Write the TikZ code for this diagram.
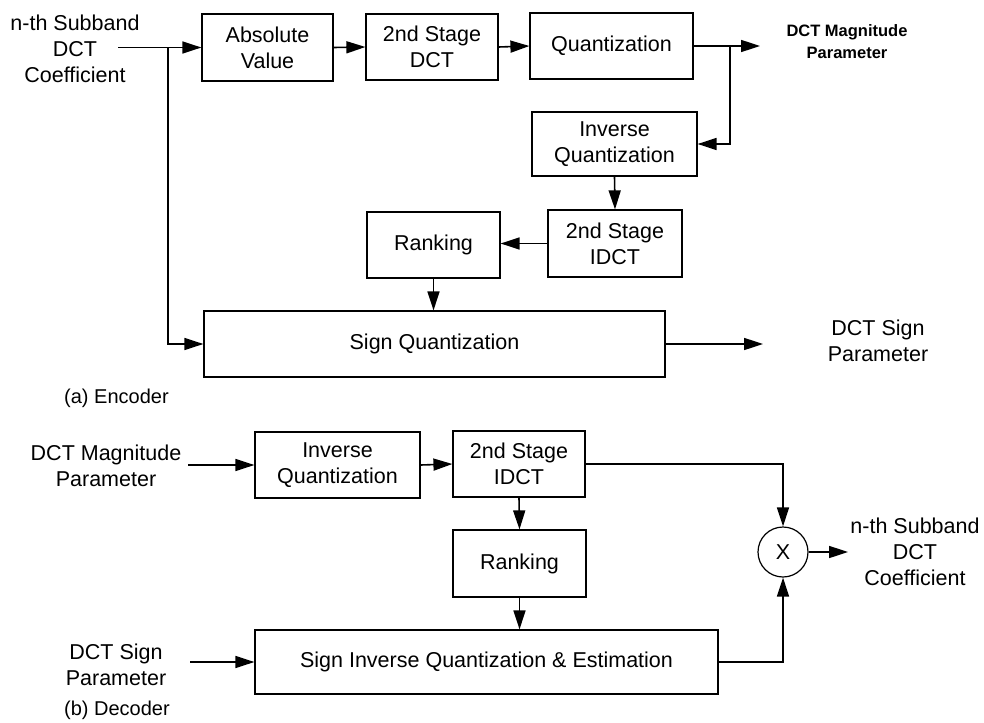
\documentclass[tikz,border=0pt]{standalone}
\usepackage{fontspec}
\setmainfont{Liberation Sans}
\usetikzlibrary{arrows.meta}
\begin{document}
\begin{tikzpicture}[x=1pt,y=-1pt,
  font=\fontsize{21.5}{26}\selectfont,
  blk/.style={draw,line width=1.2pt,minimum width=#1,inner sep=0pt,align=center},
  lbl/.style={align=center,inner sep=0pt},
  conn/.style={line width=1.6pt,-{Triangle[length=19pt,width=12pt]}},
  wire/.style={line width=1.6pt}]
\useasboundingbox (0,0) rectangle (984,722);
% Encoder
\node[blk=131pt,minimum height=67pt] (absv) at (267.5,47.5) {Absolute\\Value};
\node[blk=132pt,minimum height=66pt] (dct2) at (432,47) {2nd Stage\\DCT};
\node[blk=163pt,minimum height=66pt] (quant) at (611.5,46) {Quantization};
\node[blk=165pt,minimum height=64pt] (iquant) at (614.5,144) {Inverse\\Quantization};
\node[blk=134pt,minimum height=67pt] (idct) at (615,243.5) {2nd Stage\\IDCT};
\node[blk=133pt,minimum height=66pt] (rank) at (433.5,245) {Ranking};
\node[blk=461pt,minimum height=66pt] (signq) at (434.5,344) {Sign Quantization};

\node[lbl] (inlbl) at (75,49) {n-th Subband\\DCT\\Coefficient};
\node[lbl,font=\fontsize{16.5}{22}\selectfont\bfseries] (maglbl) at (847,41.5) {DCT Magnitude\\Parameter};
\node[lbl] (signlbl) at (878,341) {DCT Sign\\Parameter};
\node[lbl,anchor=west,font=\fontsize{20}{22}\selectfont] (capa) at (64,398) {(a) Encoder};

\coordinate (in1) at (118,47.5);
\coordinate (br1) at (168,47.5);
\coordinate (qout) at (760,46);
\coordinate (br2) at (730,46);
\coordinate (sout) at (763,344);

\draw[conn] (in1) -- (absv.west);
\draw[conn] (absv.east) -- (dct2.west);
\draw[conn] (dct2.east) -- (quant.west);
\draw[conn] (quant.east) -- (qout);
\draw[conn] (br2) |- (iquant.east);
\draw[conn] (iquant.south) -- (idct.north);
\draw[conn] (idct.west) -- (idct.west -| rank.east);
\draw[conn] (rank.south) -- (rank.south |- signq.north);
\draw[conn] (br1) |- (signq.west);
\draw[conn] (signq.east) -- (sout);

% Decoder
\node[blk=165pt,minimum height=66pt] (diq) at (337.5,465) {Inverse\\Quantization};
\node[blk=132pt,minimum height=66pt] (didct) at (519,464) {2nd Stage\\IDCT};
\node[blk=133pt,minimum height=67pt] (drank) at (519.5,563.5) {Ranking};
\node[blk=463pt,minimum height=64pt] (dsiq) at (486.5,662) {Sign Inverse Quantization \& Estimation};
\node[draw,circle,line width=1.2pt,minimum size=50pt,inner sep=0pt] (mult) at (783,552) {X};

\node[lbl] (dmaglbl) at (106,466) {DCT Magnitude\\Parameter};
\node[lbl] (dsignlbl) at (116,665) {DCT Sign\\Parameter};
\node[lbl,anchor=west,font=\fontsize{20}{22}\selectfont] (capb) at (64,710) {(b) Decoder};
\node[lbl] (doutlbl) at (915,552) {n-th Subband\\DCT\\Coefficient};

\coordinate (din1) at (188,465);
\coordinate (din2) at (190,662);
\coordinate (dout) at (848,552);

\draw[conn] (din1) -- (diq.west);
\draw[conn] (diq.east) -- (didct.west);
\draw[conn] (didct.east) -| (mult.north);
\draw[conn] (didct.south) -- (drank.north);
\draw[conn] (drank.south) -- (drank.south |- dsiq.north);
\draw[conn] (din2) -- (dsiq.west);
\draw[conn] (dsiq.east) -| (mult.south);
\draw[conn] (mult.east) -- (dout);
\end{tikzpicture}
\end{document}
